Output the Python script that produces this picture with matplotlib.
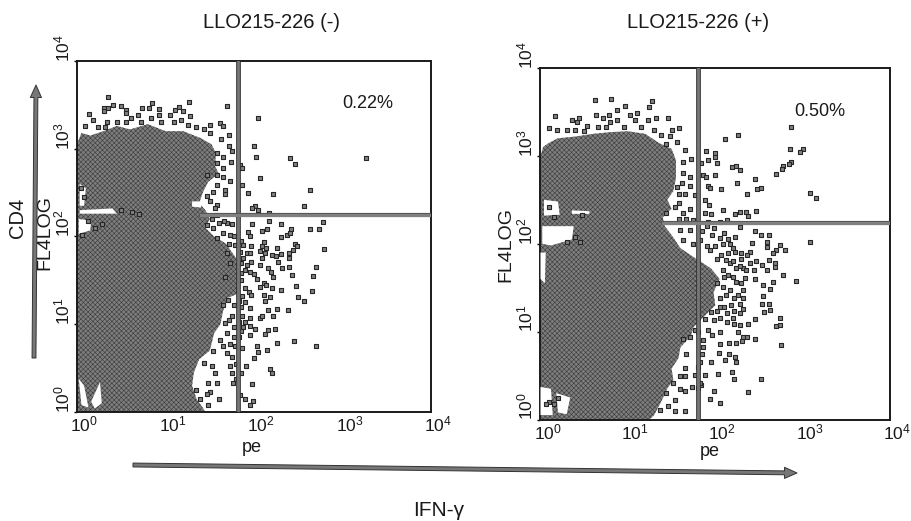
import numpy as np
import matplotlib
matplotlib.use("Agg")
import matplotlib.pyplot as plt
import matplotlib.patheffects as pe
from matplotlib.transforms import ScaledTranslation

plt.rcParams['font.family'] = ['Liberation Sans', 'DejaVu Sans']
plt.rcParams['mathtext.default'] = 'regular'
plt.rcParams['mathtext.fontset'] = 'custom'
plt.rcParams['mathtext.rm'] = 'Liberation Sans'
plt.rcParams['hatch.linewidth'] = 0.4

# All event values are log10 (pe, FL4LOG) decades.
left_top_edge = [(0.35,3.59),(0.13,3.40),(0.30,3.46),(0.30,3.43),(0.35,3.47),(0.41,3.50),(0.50,3.49),(0.55,3.44),(0.55,3.41),
 (0.74,3.46),(0.81,3.46),(0.85,3.52),(0.93,3.45),(0.93,3.39),(1.27,3.53),(1.15,3.48),(1.11,3.44),(1.20,3.43),(1.28,3.37),(1.18,3.33),(1.05,3.39),
 (0.61,3.35),(0.69,3.39),(0.84,3.35),(0.18,3.33),(0.34,3.31),(0.32,3.25),(0.24,3.25),(0.09,3.26),
 (1.50,3.27),(1.62,3.29),(1.65,3.26),(1.43,3.22),(1.69,3.49),(1.72,3.16),(1.63,3.11),(1.50,3.18),(1.72,3.03),(1.75,2.97),(1.65,2.91),(1.74,2.85),
 (1.58,2.95),(1.58,2.84),(1.65,2.78),(1.58,2.70),(1.47,2.70),(1.65,2.68),(1.73,2.63),(1.58,2.59),(1.67,2.53),(1.67,2.48),(1.54,2.51),(1.47,2.46),
 (1.50,2.40),(1.58,2.36),(1.56,2.32),(1.84,2.82),(1.87,2.78),(0.45,3.3),(0.55,3.3),(0.72,3.3),(0.95,3.3),(1.1,3.3),(1.25,3.27),(1.35,3.25)]
left_upper_right = [(2.05,3.35),(2.00,3.03),(2.02,2.91),(2.41,2.90),(2.46,2.83),(3.26,2.90),(2.07,2.67),(1.87,2.59),(1.93,2.50),(2.21,2.49),
 (2.63,2.53),(2.57,2.35),(2.01,2.35),(1.98,2.32),(2.05,2.30),(2.17,2.27)]
left_lower_right = [(1.98,2.14),(2.17,2.18),(2.31,2.14),(2.42,2.09),(2.63,2.09),(2.73,2.09),(2.78,2.17),(1.93,2.05),(1.95,2.00),(2.09,2.06),
 (2.15,2.08),(2.31,1.99),(2.37,2.02),(2.41,2.04),(1.97,1.89),(2.11,1.94),(2.09,1.89),(2.14,1.87),(2.46,1.92),(2.49,1.89),(2.26,1.87),(2.44,1.85),
 (2.79,1.86),(1.92,1.81),(1.95,1.81),(2.07,1.83),(2.12,1.81),(2.20,1.79),(2.25,1.78),(2.31,1.80),(2.40,1.81),(2.40,1.76),(2.09,1.75),(2.27,1.71),
 (1.97,1.71),(1.92,1.68),(2.07,1.68),(2.16,1.64),(2.19,1.59),(2.32,1.64),(2.39,1.65),(2.70,1.65),(2.22,1.54),(2.43,1.56),(2.67,1.55),(2.03,1.51),
 (2.11,1.47),(2.07,1.43),(2.14,1.45),(2.20,1.41),(2.31,1.39),(2.47,1.44),(2.65,1.38),(1.90,1.41),(1.94,1.37),(1.97,1.33),(2.11,1.33),(2.18,1.31),
 (2.12,1.26),(2.50,1.31),(2.56,1.26),(1.86,1.32),(1.95,1.18),(2.26,1.17),(2.16,1.16),(2.38,1.16),(1.86,1.09),(1.95,1.07),(2.07,1.07),(2.09,1.09),
 (2.22,1.09),(1.88,0.97),(1.95,0.98),(2.01,0.95),(2.16,0.94),(2.24,0.95),(2.12,0.89),(1.95,0.88),(2.26,0.79),(2.45,0.81),(2.70,0.75),(1.86,0.73),
 (2.03,0.75),(2.05,0.68),(2.15,0.71),(2.00,0.61),(1.91,0.52),(2.18,0.49),(2.20,0.45),(1.85,0.44),(1.98,0.32),(1.84,0.19),(1.90,0.15),(1.99,0.12),(1.95,0.08)]
left_lower_edge = [(1.69,1.81),(1.73,1.70),(1.67,1.54),(1.71,1.28),(1.65,1.22),(1.77,1.22),(1.75,1.09),(1.67,1.01),(1.77,0.97),(1.69,0.90),(1.77,0.86),
 (1.62,0.82),(1.73,0.78),(1.65,0.75),(1.79,0.75),(1.69,0.67),(1.75,0.63),(1.54,0.69),(1.43,0.56),(1.52,0.52),(1.56,0.44),(1.73,0.52),(1.75,0.44),
 (1.48,0.33),(1.58,0.33),(1.35,0.25),(1.50,0.23),(1.60,0.15),(1.47,0.21),(1.39,0.15),(1.48,0.08),(1.47,2.13),(1.54,2.10),(1.65,2.04),(1.73,2.02),
 (1.58,1.98),(1.77,2.00),(1.69,2.15)]
left_dense = [(1.85,1.95),(1.88,1.9),(1.84,1.82),(1.88,1.75),(1.85,1.7),(1.9,1.62),(1.85,1.58),(1.95,1.6),(2.0,1.57),(1.85,1.5),(1.83,1.27),(1.85,1.2),(1.9,1.25),
 (1.83,1.02),(1.9,1.03),(1.85,0.92),(1.83,0.85),(1.78,1.9),(1.72,1.92),(1.66,2.18),(1.6,2.15),(1.75,2.14),(1.52,2.2),(1.58,2.24),(1.72,1.05),(1.8,0.55),(1.8,0.38),(1.76,0.33),
 (0.5,2.3),(0.62,2.28),(0.7,2.26),(0.2,2.1),(0.12,2.18),(0.06,2.02),(0.28,2.14),(0.08,2.45),(0.05,2.55)]
left_blob = [(0,3.05),(0.05,3.18),(0.15,3.15),(0.3,3.2),(0.45,3.26),(0.6,3.22),(0.8,3.28),(1.0,3.2),(1.2,3.2),(1.4,3.12),(1.52,3.05),(1.57,2.95),
 (1.56,2.8),(1.6,2.72),(1.48,2.62),(1.42,2.5),(1.38,2.38),(1.45,2.3),(1.5,2.2),(1.45,2.1),(1.55,2.0),(1.68,1.92),(1.8,1.75),(1.82,1.6),(1.83,1.5),
 (1.82,1.35),(1.7,1.3),(1.65,1.15),(1.62,1.0),(1.55,0.9),(1.5,0.7),(1.38,0.6),(1.32,0.45),(1.3,0.3),(1.35,0.15),(1.42,0.05),(1.45,0),(0,0)]
left_holes = [[(0.03,2.30),(0.4,2.32),(0.45,2.26),(0.03,2.26)],[(0.02,0.38),(0.08,0.30),(0.13,0.05),(0.05,0.08)],[(0.16,0.12),(0.26,0.34),(0.28,0.10),(0.2,0.04)],
 [(0.03,2.6),(0.1,2.55),(0.08,2.35),(0.03,2.35)],[(0.02,2.2),(0.16,2.18),(0.15,2.07),(0.02,2.03)],[(1.3,2.40),(1.42,2.40),(1.40,2.33),(1.3,2.34)]]

right_top_edge = [(0.62,3.64),(0.81,3.65),(0.97,3.57),(0.88,3.52),(1.28,3.62),(1.24,3.56),(0.17,3.45),(0.36,3.41),(0.44,3.43),(0.42,3.38),(0.63,3.46),
 (0.72,3.43),(0.78,3.46),(0.79,3.39),(0.88,3.41),(1.02,3.46),(1.11,3.49),(1.08,3.41),(1.23,3.41),(1.32,3.43),(1.46,3.43),(0.10,3.32),(0.19,3.30),
 (0.30,3.30),(0.39,3.30),(0.53,3.34),(0.66,3.33),(1.50,3.30),(1.58,3.32),(1.48,3.23),(1.56,3.16),(1.44,3.14),(1.65,3.07),(1.72,2.97),(1.63,2.93),
 (1.63,2.80),(1.71,2.76),(1.62,2.69),(1.71,2.66),(1.58,2.57),(1.65,2.57),(1.77,2.55),(1.56,2.65),(1.63,2.35),(1.71,2.39),(1.54,2.42),(1.44,2.35),(1.58,2.46),
 (0.5,3.28),(0.75,3.33),(0.95,3.33),(1.15,3.33),(1.3,3.3),(1.38,3.24)]
right_upper_right = [(2.11,3.19),(2.26,3.24),(2.87,3.33),(2.86,3.08),(3.01,3.08),(2.97,3.04),(1.89,3.05),(2.00,3.03),(2.00,2.99),(1.92,2.95),(1.84,2.92),
 (2.02,2.92),(2.19,2.87),(2.24,2.89),(2.28,2.84),(2.87,2.93),(2.84,2.91),(2.78,2.89),(2.76,2.85),(2.70,2.79),(1.86,2.78),(1.89,2.76),(2.00,2.78),
 (2.46,2.74),(2.25,2.69),(1.92,2.66),(1.94,2.64),(2.07,2.62),(2.52,2.64),(2.48,2.62),(2.36,2.57),(3.08,2.58),(3.15,2.52),(1.88,2.50),(1.93,2.44),
 (2.09,2.38),(2.23,2.34),(2.28,2.36),(2.35,2.36),(2.37,2.32),(2.47,2.37),(1.88,2.35),(1.95,2.34),(2.13,2.27)]
right_lower_right = [(2.45,2.14),(2.52,2.10),(2.61,2.10),(3.08,2.02),(2.23,2.08),(2.28,2.19),(1.96,2.10),(2.05,2.06),(2.09,2.00),(2.17,2.00),(2.42,2.01),
 (2.59,2.02),(2.59,1.96),(2.74,1.99),(2.80,1.93),(2.69,1.93),(2.66,1.89),(2.40,1.91),(2.36,1.87),(2.30,1.83),(2.23,1.91),(2.15,1.89),(2.07,1.87),
 (1.94,1.93),(2.02,1.83),(2.61,1.81),(2.47,1.80),(2.53,1.76),(2.59,1.70),(2.68,1.78),(2.68,1.74),(2.40,1.78),(2.17,1.78),(2.24,1.72),(2.09,1.70),
 (2.32,1.72),(2.44,1.70),(2.77,1.64),(2.92,1.58),(2.45,1.60),(2.34,1.61),(2.24,1.57),(2.66,1.57),(2.55,1.53),(2.63,1.48),(2.02,1.55),(2.09,1.51),
 (2.17,1.47),(2.32,1.47),(2.26,1.42),(2.21,1.38),(2.05,1.38),(2.32,1.38),(2.55,1.40),(2.53,1.32),(2.61,1.32),(2.63,1.25),(2.56,1.22),(2.32,1.26),
 (2.02,1.23),(2.13,1.21),(2.21,1.23),(2.28,1.21),(2.74,1.15),(2.45,1.14),(1.88,1.14),(1.98,1.13),(2.13,1.11),(2.21,1.09),(2.28,1.08),(2.38,1.09),
 (2.74,1.08),(2.70,1.06),(1.92,1.02),(1.96,0.96),(2.05,1.00),(2.26,1.00),(2.32,0.94),(2.36,0.94),(2.45,0.92),(2.31,0.89),(1.86,0.90),(1.86,0.83),
 (2.05,0.86),(2.16,0.87),(2.24,0.87),(2.75,0.85),(2.04,0.76),(2.16,0.74),(2.23,0.71),(2.11,0.68),(2.24,0.66),(1.95,0.66),(1.83,0.66),(2.03,0.52),
 (2.19,0.54),(2.21,0.46),(2.52,0.46),(1.88,0.51),(1.77,0.51),(1.84,0.39),(1.73,0.37),(1.99,0.32),(2.38,0.31),(1.94,0.23),(2.05,0.19)]
right_lower_edge = [(1.65,0.59),(1.65,0.49),(1.60,0.49),(1.65,0.32),(1.60,0.35),(1.54,0.22),(1.54,0.10),(1.65,0.10),(1.44,0.30),(1.46,0.15),(1.37,0.11),
 (1.52,0.41),(1.67,0.75),(1.63,0.92),(1.71,0.94),(1.77,1.02),(1.60,2.16),(1.71,2.16),(1.75,2.00),(1.83,2.04),(1.63,2.04)]
right_dense = [(1.85,2.15),(1.9,2.2),(1.98,2.18),(2.1,2.12),(2.15,2.05),(2.0,1.98),(1.9,1.97),(2.2,1.95),(2.3,1.9),(2.12,1.82),(2.2,1.8),(2.28,1.75),(2.35,1.7),(2.15,1.65),
 (2.2,1.62),(2.1,1.62),(2.3,1.55),(2.12,1.42),(2.28,1.32),(2.1,1.28),(2.18,1.3),(2.05,1.28),(1.95,1.22),(2.2,1.15),(2.05,1.15),(1.8,1.0),(1.85,0.75),(1.83,0.42),(1.8,0.36),
 (1.8,0.6),(1.58,2.28),(1.66,2.28),(1.75,2.27),(1.92,2.25),(2.05,2.25),(0.1,2.42),(0.15,2.3),(0.48,2.33),(0.3,2.02),(0.4,2.08),(0.45,2.02),(0.1,0.2),(0.06,0.18),(0.16,0.18),(0.2,0.25)]
right_blob = [(0.03,3.1),(0.1,3.15),(0.2,3.2),(0.4,3.22),(0.6,3.25),(0.8,3.27),(1.0,3.28),(1.2,3.25),(1.35,3.15),(1.5,3.08),(1.55,2.95),(1.55,2.75),(1.52,2.6),
 (1.45,2.5),(1.5,2.4),(1.4,2.3),(1.42,2.2),(1.5,2.1),(1.6,1.95),(1.75,1.85),(1.95,1.72),(2.05,1.6),(1.98,1.45),(2.0,1.3),(1.9,1.2),(1.75,1.05),(1.72,0.95),
 (1.6,0.82),(1.58,0.7),(1.5,0.58),(1.52,0.45),(1.45,0.35),(1.38,0.2),(1.3,0.05),(1.25,0),(0.0,0),(0.0,3.0)]
right_holes = [[(0.02,2.2),(0.38,2.2),(0.36,2.05),(0.12,1.98),(0.02,2.0)],[(0.04,2.5),(0.2,2.48),(0.22,2.33),(0.04,2.32)],[(0.36,2.38),(0.56,2.37),(0.56,2.34),(0.36,2.34)],
 [(0.0,0.37),(0.12,0.35),(0.14,0.05),(0.0,0.05)],[(0.18,0.30),(0.34,0.25),(0.30,0.06),(0.2,0.08)],[(0.0,1.9),(0.06,1.9),(0.05,1.55),(0.0,1.6)]]

gate_left = (1.82, 2.245)
gate_right = (1.80, 2.24)
decades = [0, 1, 2, 3, 4]
tick_labels = ['$10^{%d}$' % d for d in decades]
title_left, title_right = 'LLO215-226 (-)', 'LLO215-226 (+)'
pct_left, pct_right = '0.22%', '0.50%'

W, H = 912, 521
fig = plt.figure(figsize=(W/100, H/100), dpi=100)
INK = '#1a1a1a'

def panel(rect, blob, holes, groups, gate, pct, pct_pos):
    x0, y0, x1, y1 = rect
    ax = fig.add_axes([x0/W, 1-y1/H, (x1-x0)/W, (y1-y0)/H])
    ax.set_xscale('log'); ax.set_yscale('log')
    ax.set_xlim(1, 1e4); ax.set_ylim(1, 1e4)
    b = 10**np.array(blob)
    ax.fill(b[:,0], b[:,1], facecolor='#7e7e7e', edgecolor='#3a3a3a', hatch='xxxxxxx', lw=0, zorder=2)
    for h in holes:
        p = 10**np.array(h)
        ax.fill(p[:,0], p[:,1], color='white', lw=0, zorder=3)
    pts = 10**np.array([p for g in groups for p in g])
    ax.scatter(pts[:,0], pts[:,1], s=8.5, marker='s', facecolor='#808080', edgecolor='#262626', linewidths=0.8, zorder=4)
    ax.axvline(10**gate[0], color='#777777', lw=2.0, zorder=5, path_effects=[pe.Stroke(linewidth=3.4, foreground='#333333'), pe.Normal()])
    ax.plot([10**1.4, 1e4], [10**gate[1]]*2, color='#808080', lw=2.2, zorder=5, path_effects=[pe.Stroke(linewidth=3.0, foreground='#555555'), pe.Normal()])
    for s in ax.spines.values():
        s.set_linewidth(1.4); s.set_color(INK)
    ax.set_xticks([10**d for d in decades]); ax.set_yticks([10**d for d in decades])
    ax.set_xticklabels(tick_labels, color=INK)
    ax.set_yticklabels(tick_labels, color=INK, rotation=90, va='center')
    ax.minorticks_off()
    ax.tick_params(axis='x', length=0, pad=2, labelsize=12.5)
    ax.tick_params(axis='y', length=2.5, width=1, pad=1, labelsize=12.5)
    for t in ax.get_xticklabels():
        t.set_transform(t.get_transform() + ScaledTranslation(7/100, 0, fig.dpi_scale_trans))
    for t in ax.get_yticklabels():
        t.set_transform(t.get_transform() + ScaledTranslation(0, 13/100, fig.dpi_scale_trans))
    ax.text(10**pct_pos[0], 10**pct_pos[1], pct, fontsize=13, ha='center', va='center', color=INK, zorder=6)
    return ax

ax1 = panel((77, 61, 431, 412), left_blob, left_holes, [left_top_edge, left_upper_right, left_lower_right, left_lower_edge, left_dense], gate_left, pct_left, (3.29, 3.52))
ax2 = panel((540.5, 68, 890, 419.5), right_blob, right_holes, [right_top_edge, right_upper_right, right_lower_right, right_lower_edge, right_dense], gate_right, pct_right, (3.20, 3.51))

def ftext(x, y, s, **kw):
    kw.setdefault('color', INK)
    fig.text(x/W, 1-y/H, s, ha='center', va='center', **kw)

ftext(272, 23, title_left, fontsize=14.5)
ftext(698, 23, title_right, fontsize=14.5)
ftext(252, 448, 'pe', fontsize=13)
ftext(710, 452, 'pe', fontsize=13)
ftext(439, 510, 'IFN-\u03b3', fontsize=15)
ftext(18, 218, 'CD4', fontsize=14.5, rotation=90)
ftext(45, 233, 'FL4LOG', fontsize=14, rotation=90)
ftext(506, 245, 'FL4LOG', fontsize=14, rotation=90)

def arrow(p0, p1):
    return fig.add_artist(matplotlib.patches.FancyArrowPatch((p0[0]/W, 1-p0[1]/H), (p1[0]/W, 1-p1[1]/H), transform=fig.transFigure,
        arrowstyle='simple,head_width=8,head_length=9,tail_width=2.8', facecolor='#777777', edgecolor='#333333', lw=0.7, shrinkA=0, shrinkB=0))

arrow((34, 358), (36, 85))
arrow((133, 465), (797, 473))

fig.savefig('out.png', dpi=100)
